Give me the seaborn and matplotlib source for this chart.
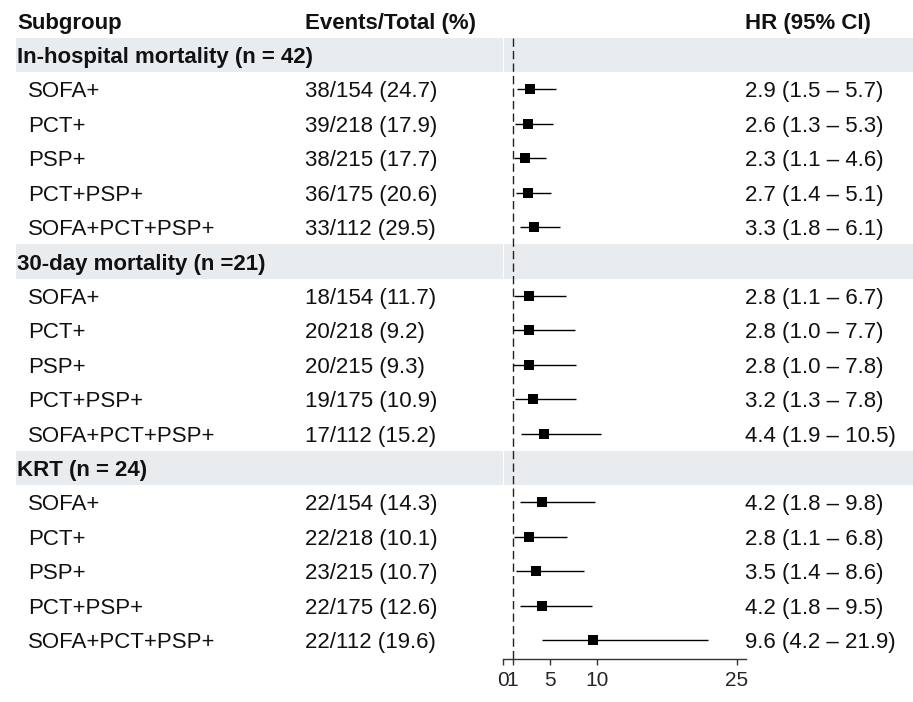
import numpy as np
import pandas as pd
import matplotlib
matplotlib.use("Agg")
import matplotlib.pyplot as plt
import seaborn as sns

# ---- data -------------------------------------------------------------
groups = ["In-hospital mortality (n = 42)", "30-day mortality (n =21)", "KRT (n = 24)"]
subgroups = ["SOFA+", "PCT+", "PSP+", "PCT+PSP+", "SOFA+PCT+PSP+"]

events = [[38, 39, 38, 36, 33],
          [18, 20, 20, 19, 17],
          [22, 22, 23, 22, 22]]
totals = [[154, 218, 215, 175, 112]] * 3
pct = [[24.7, 17.9, 17.7, 20.6, 29.5],
       [11.7, 9.2, 9.3, 10.9, 15.2],
       [14.3, 10.1, 10.7, 12.6, 19.6]]

hr = [[2.9, 2.6, 2.3, 2.7, 3.3],
      [2.8, 2.8, 2.8, 3.2, 4.4],
      [4.2, 2.8, 3.5, 4.2, 9.6]]
ci_low = [[1.5, 1.3, 1.1, 1.4, 1.8],
          [1.1, 1.0, 1.0, 1.3, 1.9],
          [1.8, 1.1, 1.4, 1.8, 4.2]]
ci_high = [[5.7, 5.3, 4.6, 5.1, 6.1],
           [6.7, 7.7, 7.8, 7.8, 10.5],
           [9.8, 6.8, 8.6, 9.5, 21.9]]

x_ticks = [0, 1, 5, 10, 25]
x_max = 26

# ---- build the row table ---------------------------------------------
rows = []
r = 1
for g, name in enumerate(groups):
    rows.append(dict(row=r, kind="group", label=name))
    r += 1
    for i, sg in enumerate(subgroups):
        rows.append(dict(row=r, kind="item", label=sg,
                         ev=int(events[g][i]), tot=int(totals[g][i]), pct=pct[g][i],
                         hr=hr[g][i], lo=ci_low[g][i], hi=ci_high[g][i]))
        r += 1
df = pd.DataFrame(rows)
items = df[df.kind == "item"]

# ---- layout (pixels) ---------------------------------------------------
W, H, DPI = 913, 702, 100
row0_y = 20.6          # centre of header row
row_h = 34.42          # row pitch
axis_y = 659           # bottom axis line
x0_px, px_per_unit = 503.3, 9.333

def px_to_row(y):
    return (y - row0_y) / row_h

sns.set_theme(style="white")
plt.rcParams["font.family"] = ["Liberation Sans", "DejaVu Sans"]
plt.rcParams["text.color"] = "#111111"

fig = plt.figure(figsize=(W / DPI, H / DPI), dpi=DPI)
fig.patch.set_facecolor("white")

# background axes for text and shaded bands: x in pixels, y in rows
bg = fig.add_axes([0, 0, 1, 1])
bg.set_xlim(0, W)
bg.set_ylim(px_to_row(H), px_to_row(0))
bg.axis("off")

band_col = "#e9ecef"
x_left_end = x0_px - 0.8
fs = 16
va = "center_baseline"
for _, row in df[df.kind == "group"].iterrows():
    y = row.row
    bg.fill_between([16, x_left_end], y - 0.5, y + 0.5, color=band_col, lw=0, zorder=0)
    bg.fill_between([x0_px + 1.0, W], y - 0.5, y + 0.5, color=band_col, lw=0, zorder=0)
    bg.text(17, y, row.label, fontsize=fs, fontweight="bold", va=va, ha="left")

bg.text(17, 0, "Subgroup", fontsize=fs, fontweight="bold", va=va)
bg.text(305, 0, "Events/Total (%)", fontsize=fs, fontweight="bold", va=va)
bg.text(745, 0, "HR (95% CI)", fontsize=fs, fontweight="bold", va=va)

for _, row in items.iterrows():
    y = row.row
    bg.text(28, y, row.label, fontsize=fs, va=va)
    bg.text(305, y, f"{int(row.ev)}/{int(row.tot)} ({row.pct:.1f})", fontsize=fs, va=va)
    bg.text(745, y, f"{row.hr:.1f} ({row.lo:.1f} \u2013 {row.hi:.1f})", fontsize=fs, va=va)

# forest axes
left = x0_px / W
width = x_max * px_per_unit / W
bottom = 1 - axis_y / H
ax = fig.add_axes([left, bottom, width, 1 - bottom])
ax.patch.set_alpha(0)
ax.set_xlim(0, x_max)
ax.set_ylim(px_to_row(axis_y), px_to_row(0))

ax.vlines(1, 0.5, px_to_row(axis_y), color="#222222", lw=1.0,
          linestyles=(0, (6, 3)), zorder=1)
ax.hlines(items.row, items.lo, items.hi, color="black", lw=1.0, zorder=2)
sns.scatterplot(data=items, x="hr", y="row", marker="s", s=48, color="black",
                edgecolor="black", linewidth=0, ax=ax, zorder=3, legend=False)

for s in ["top", "right", "left"]:
    ax.spines[s].set_visible(False)
ax.spines["bottom"].set_color("#333333")
ax.spines["bottom"].set_linewidth(1.0)
ax.set_xticks(x_ticks)
ax.set_xticklabels([str(t) for t in x_ticks])
ax.tick_params(axis="x", direction="out", length=4.5, width=1.0, color="#333333",
               labelsize=15, pad=4, bottom=True)
ax.set_yticks([])
ax.set_xlabel("")
ax.set_ylabel("")

fig.savefig("out.png", dpi=DPI, facecolor="white")
